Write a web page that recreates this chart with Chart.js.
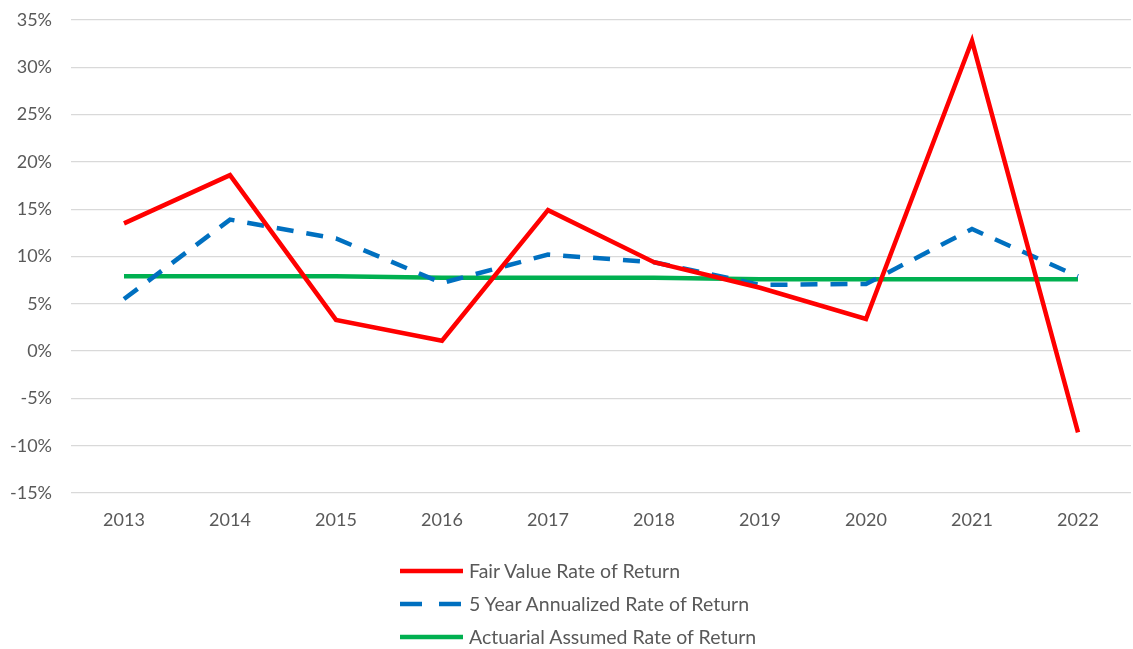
<!DOCTYPE html>
<html>
<head>
<meta charset="utf-8">
<script src="https://cdn.jsdelivr.net/npm/chart.js@4/dist/chart.umd.min.js"></script>
<style>
  html, body { margin: 0; padding: 0; background: #fff; }
  #wrap { position: relative; width: 1133px; height: 649px; }
  canvas { position: absolute; left: 0; top: 0; }
  #legend { position: absolute; left: 400px; top: 554px; font-family: Lato, "Open Sans", sans-serif; font-size: 19.5px; color: #595959; }
  .item { display: flex; align-items: center; height: 33px; }
  .item svg { margin-right: 6px; }
</style>
</head>
<body>
<div id="wrap">
  <canvas id="c" width="1133" height="649"></canvas>
  <div id="legend"></div>
</div>
<script>
const years = ['2013','2014','2015','2016','2017','2018','2019','2020','2021','2022'];
const fairValue = [13.5, 18.6, 3.3, 1.1, 14.9, 9.4, 6.7, 3.4, 32.8, -8.6];
const fiveYear = [5.5, 13.9, 11.9, 7.2, 10.2, 9.4, 7.0, 7.1, 12.9, 7.9];
const actuarial = [7.9, 7.9, 7.9, 7.75, 7.75, 7.75, 7.6, 7.6, 7.6, 7.6];
const seriesNames = ['Fair Value Rate of Return', '5 Year Annualized Rate of Return', 'Actuarial Assumed Rate of Return'];
const colors = ['#FF0000', '#0070C0', '#00B050'];
const dashes = [[], [17, 13], []];
const legendDashes = ['', '22 17', ''];

const font = { family: 'Lato, "Open Sans", sans-serif', size: 18 };

new Chart(document.getElementById('c'), {
  type: 'line',
  data: {
    labels: years,
    datasets: [fairValue, fiveYear, actuarial].map((d, i) => ({
      label: seriesNames[i],
      data: d,
      borderColor: colors[i],
      backgroundColor: colors[i],
      borderWidth: 4.5,
      borderDash: dashes[i],
      borderCapStyle: 'butt',
      borderJoinStyle: 'miter',
      pointRadius: 0,
      tension: 0,
      fill: false
    }))
  },
  options: {
    responsive: false,
    animation: false,
    layout: { padding: { top: 20, right: 2, bottom: 116, left: 0 } },
    plugins: { legend: { display: false }, tooltip: { enabled: false } },
    scales: {
      x: {
        offset: true,
        grid: { display: false },
        border: { display: false },
        ticks: { color: '#595959', font: font, padding: 8, maxRotation: 0 },
        afterFit: s => { s.height = 40; }
      },
      y: {
        min: -15, max: 35,
        grid: { color: '#D9D9D9', lineWidth: 1.3, drawTicks: false },
        border: { display: false },
        ticks: { stepSize: 5, color: '#595959', font: font, padding: 19, callback: v => v + '%' },
        afterFit: s => { s.width = 71; s.paddingTop = 10; s.paddingBottom = 10; }
      }
    }
  }
});

const legend = document.getElementById('legend');
seriesNames.forEach((n, i) => {
  const div = document.createElement('div');
  div.className = 'item';
  const dash = legendDashes[i] ? `stroke-dasharray="${legendDashes[i]}"` : '';
  div.innerHTML = `<svg width="63" height="10"><line x1="0" y1="5" x2="63" y2="5" stroke="${colors[i]}" stroke-width="4.5" ${dash}/></svg><span>${n}</span>`;
  legend.appendChild(div);
});
</script>
</body>
</html>
